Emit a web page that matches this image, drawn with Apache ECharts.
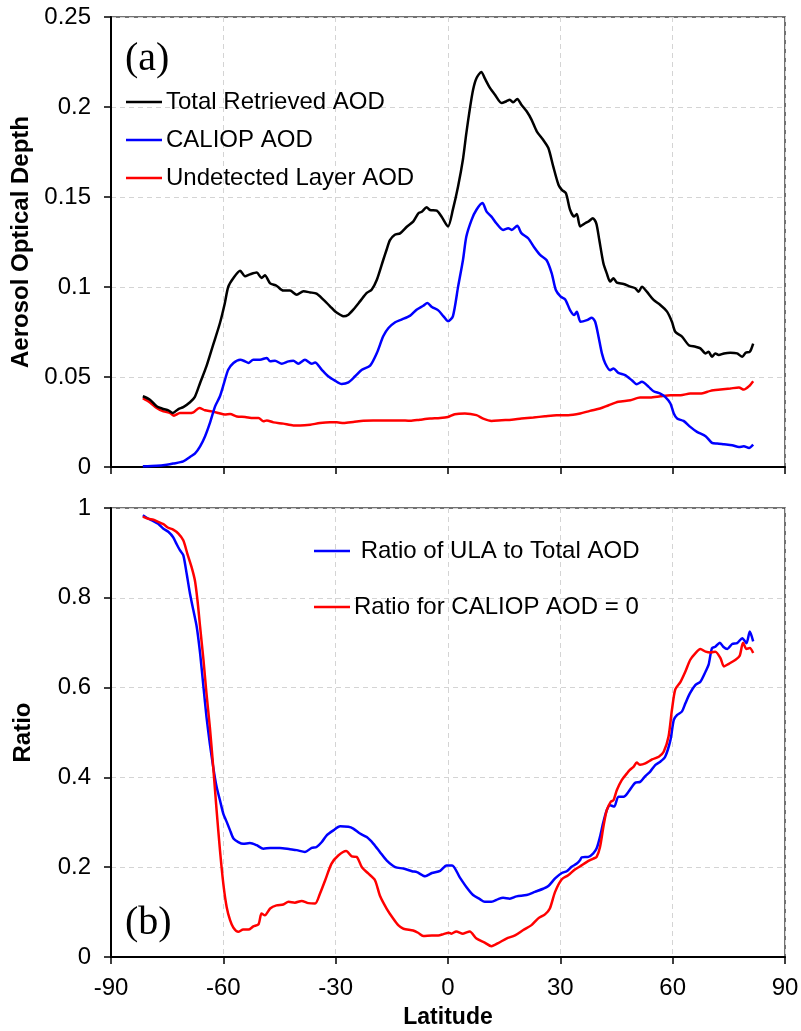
<!DOCTYPE html>
<html>
<head>
<meta charset="utf-8">
<script src="https://cdn.jsdelivr.net/npm/echarts@6/dist/echarts.min.js"></script>
<style>
html,body{margin:0;padding:0;background:#fff;}
#chart{width:801px;height:1031px;}
</style>
</head>
<body>
<div id="chart"></div>
<script>
// ---------------- DATA ----------------
const xTicks = [-90, -60, -30, 0, 30, 60, 90];
const aodTicks = [0, 0.05, 0.1, 0.15, 0.2, 0.25];
const ratioTicks = [0, 0.2, 0.4, 0.6, 0.8, 1];

const totalLat = [-81.5,-79.6,-77.8,-76.0,-74.7,-73.5,-72.0,-70.7,-68.9,-67.6,-66.2,-64.5,-62.7,-60.9,-59.6,-58.7,-57.3,-55.5,-54.2,-52.9,-51.1,-49.8,-48.9,-47.5,-45.8,-44.0,-42.2,-40.4,-38.6,-36.8,-35.1,-33.3,-31.5,-30.2,-28.8,-27.9,-26.6,-25.3,-23.5,-21.7,-20.4,-19.0,-17.3,-16.4,-15.5,-14.2,-12.8,-11.0,-9.3,-7.9,-7.0,-5.7,-4.8,-3.0,-1.7,0.0,1.3,2.7,4.0,4.9,5.8,6.7,7.6,8.9,9.8,11.2,12.5,14.3,15.6,16.5,17.4,18.5,19.6,21.0,22.3,23.7,25.4,26.8,28.1,29.5,30.4,31.5,32.6,33.7,34.4,35.3,36.6,37.5,38.7,39.6,40.4,41.5,42.4,43.3,44.2,45.1,46.9,48.7,50.0,50.9,51.8,53.1,54.9,56.7,58.5,59.8,60.7,62.5,64.3,66.1,67.4,68.8,69.6,70.5,71.4,72.3,73.7,75.4,77.2,78.6,79.5,80.6,81.5];
const totalAOD = [0.0393,0.0374,0.0337,0.0322,0.0315,0.0300,0.0322,0.0333,0.0360,0.0390,0.0467,0.0560,0.0680,0.0800,0.0910,0.1000,0.1050,0.1090,0.1060,0.1070,0.1080,0.1050,0.1065,0.1020,0.1007,0.0980,0.0980,0.0957,0.0976,0.0970,0.0963,0.0930,0.0893,0.0865,0.0846,0.0837,0.0846,0.0874,0.0920,0.0967,0.0985,0.1040,0.1150,0.1207,0.1260,0.1290,0.1298,0.1335,0.1363,0.1410,0.1418,0.1443,0.1428,0.1424,0.1390,0.1336,0.1430,0.1560,0.1710,0.1855,0.1985,0.2096,0.2160,0.2195,0.2160,0.2106,0.2069,0.2022,0.2032,0.2040,0.2026,0.2045,0.2013,0.1976,0.1930,0.1865,0.1818,0.1772,0.1670,0.1568,0.1540,0.1521,0.1429,0.1391,0.1406,0.1336,0.1354,0.1364,0.1382,0.1354,0.1262,0.1132,0.1076,0.1030,0.1048,0.1024,0.1017,0.1002,0.0993,0.0974,0.1002,0.0974,0.0928,0.0900,0.0863,0.0807,0.0751,0.0724,0.0677,0.0668,0.0659,0.0631,0.0640,0.0612,0.0631,0.0622,0.0631,0.0635,0.0631,0.0612,0.0635,0.0640,0.0686];

const caliopLat = [-81.5,-77.8,-75.1,-73.4,-70.7,-68.9,-67.6,-66.2,-64.9,-63.6,-62.2,-60.9,-59.8,-58.7,-57.3,-55.5,-54.2,-53.3,-52.0,-50.2,-48.4,-47.5,-46.2,-44.4,-42.6,-41.3,-40.0,-38.2,-36.4,-35.5,-33.7,-32.0,-30.2,-28.4,-26.6,-24.8,-23.0,-20.8,-19.0,-17.3,-15.9,-14.1,-12.4,-10.1,-8.4,-6.6,-5.5,-4.3,-2.6,-1.2,0.0,1.3,2.7,4.0,4.9,6.3,7.6,9.2,10.3,11.6,12.9,14.7,16.1,17.0,18.5,19.6,21.4,23.2,24.6,26.3,27.7,28.8,30.1,31.3,32.6,33.7,34.4,35.4,37.1,38.4,39.3,40.2,41.1,42.0,43.3,44.2,45.5,47.3,49.1,50.4,51.8,53.6,54.9,56.7,58.0,59.4,60.3,61.2,62.9,64.7,66.5,68.8,70.5,71.9,73.7,75.9,77.7,79.0,80.4,81.5];
const caliopAOD = [0.0004,0.0007,0.0013,0.0019,0.0031,0.0056,0.0074,0.0115,0.0170,0.0244,0.0337,0.0393,0.0467,0.0540,0.0578,0.0596,0.0587,0.0578,0.0596,0.0596,0.0606,0.0587,0.0590,0.0574,0.0587,0.0590,0.0574,0.0596,0.0574,0.0581,0.0540,0.0504,0.0480,0.0461,0.0470,0.0504,0.0540,0.0563,0.0633,0.0726,0.0772,0.0804,0.0819,0.0841,0.0874,0.0896,0.0911,0.0889,0.0870,0.0837,0.0810,0.0837,0.1002,0.1150,0.1280,0.1373,0.1429,0.1466,0.1419,0.1391,0.1354,0.1317,0.1327,0.1317,0.1340,0.1299,0.1271,0.1215,0.1178,0.1150,0.1076,0.0983,0.0946,0.0931,0.0872,0.0844,0.0863,0.0807,0.0816,0.0829,0.0807,0.0724,0.0631,0.0575,0.0538,0.0547,0.0523,0.0510,0.0482,0.0460,0.0473,0.0445,0.0421,0.0408,0.0390,0.0353,0.0297,0.0269,0.0256,0.0223,0.0195,0.0171,0.0134,0.0130,0.0126,0.0121,0.0111,0.0115,0.0106,0.0124];

const ulaLat = [-81.5,-79.6,-77.8,-76.0,-74.2,-73.2,-71.6,-69.3,-68.0,-66.4,-64.9,-63.1,-61.3,-59.6,-58.2,-56.4,-54.2,-52.0,-50.6,-49.3,-48.4,-46.6,-44.0,-41.3,-39.5,-36.8,-34.2,-31.5,-29.7,-27.9,-25.3,-22.6,-20.0,-17.3,-14.6,-12.8,-10.1,-7.5,-4.8,-2.1,0.0,1.8,4.5,7.6,9.4,11.6,14.3,17.0,19.6,22.8,25.9,29.0,32.1,35.3,37.9,40.6,42.9,45.5,48.7,51.3,54.0,56.7,59.4,62.1,64.7,67.4,70.1,72.8,75.4,77.7,79.0,80.4,81.5];
const ulaAOD = [0.0383,0.0359,0.0328,0.0309,0.0300,0.0285,0.0300,0.0300,0.0304,0.0328,0.0315,0.0309,0.0300,0.0291,0.0294,0.0281,0.0278,0.0272,0.0272,0.0254,0.0259,0.0248,0.0241,0.0231,0.0231,0.0235,0.0244,0.0248,0.0248,0.0244,0.0250,0.0257,0.0259,0.0259,0.0259,0.0259,0.0257,0.0263,0.0269,0.0272,0.0278,0.0293,0.0297,0.0288,0.0269,0.0256,0.0260,0.0263,0.0269,0.0275,0.0282,0.0288,0.0288,0.0297,0.0312,0.0325,0.0343,0.0362,0.0371,0.0386,0.0386,0.0393,0.0399,0.0399,0.0408,0.0408,0.0423,0.0430,0.0436,0.0442,0.0430,0.0449,0.0477];

const ratioTotalLat = [-81.5,-80.0,-78.7,-77.4,-76.0,-74.7,-73.4,-72.5,-71.6,-70.7,-69.8,-68.9,-68.0,-67.1,-66.2,-65.3,-64.5,-63.6,-62.7,-61.8,-60.9,-60.0,-59.1,-58.2,-57.3,-56.0,-54.7,-52.9,-51.1,-49.3,-47.5,-44.9,-42.2,-40.4,-38.2,-36.4,-35.1,-33.7,-32.4,-30.6,-28.8,-26.6,-25.3,-23.5,-21.7,-19.9,-18.2,-16.4,-14.1,-11.9,-9.6,-8.3,-6.1,-4.3,-2.1,-0.4,1.1,3.1,4.9,6.7,8.5,9.8,11.6,13.4,14.7,16.5,18.3,21.0,23.2,25.4,26.8,28.6,30.4,31.7,33.0,34.4,35.3,35.7,37.5,38.8,39.7,40.6,41.5,42.4,43.3,44.4,45.5,46.9,48.2,50.0,51.3,52.7,54.0,55.4,56.7,58.0,59.4,60.3,61.2,62.5,63.4,64.6,66.1,67.4,68.8,69.6,70.5,71.4,72.6,73.5,74.6,75.9,77.2,78.6,79.7,80.6,81.5];
const ratioTotal = [0.984,0.976,0.971,0.965,0.954,0.947,0.935,0.920,0.906,0.895,0.854,0.809,0.772,0.735,0.676,0.601,0.535,0.475,0.423,0.379,0.349,0.319,0.301,0.282,0.264,0.256,0.252,0.254,0.249,0.241,0.243,0.243,0.240,0.238,0.234,0.243,0.245,0.256,0.271,0.282,0.291,0.290,0.286,0.275,0.267,0.252,0.234,0.215,0.200,0.197,0.191,0.189,0.180,0.187,0.192,0.204,0.204,0.178,0.156,0.138,0.129,0.123,0.123,0.129,0.132,0.130,0.135,0.138,0.145,0.152,0.158,0.175,0.187,0.191,0.201,0.208,0.216,0.222,0.223,0.231,0.242,0.268,0.301,0.327,0.338,0.335,0.357,0.357,0.368,0.388,0.390,0.403,0.413,0.428,0.435,0.446,0.483,0.528,0.539,0.547,0.565,0.587,0.606,0.613,0.636,0.651,0.688,0.691,0.700,0.691,0.686,0.697,0.699,0.710,0.699,0.725,0.703];

const ratioZeroLat = [-81.5,-80.0,-78.7,-77.4,-76.0,-74.7,-73.4,-72.0,-70.7,-69.6,-68.5,-67.6,-66.9,-66.2,-65.3,-64.5,-63.6,-62.7,-61.8,-60.9,-60.0,-59.1,-58.2,-57.3,-56.0,-54.7,-53.3,-52.0,-50.6,-49.8,-48.9,-47.5,-45.8,-44.0,-42.6,-40.9,-39.1,-37.3,-35.5,-34.2,-32.8,-31.1,-29.3,-27.2,-25.7,-24.4,-23.0,-21.3,-19.5,-18.2,-16.4,-14.6,-13.3,-11.9,-9.3,-8.0,-6.6,-4.3,-2.6,-1.2,0.2,0.9,2.2,4.0,5.8,7.6,9.8,11.6,13.4,15.6,17.9,20.1,22.3,24.1,25.9,27.2,28.6,30.4,32.1,33.9,35.3,37.1,38.8,39.7,40.6,41.5,42.4,43.5,44.2,45.1,46.4,47.8,48.5,49.6,50.4,51.3,52.7,54.5,56.3,57.6,58.9,59.8,60.7,62.1,63.4,64.7,66.1,67.4,68.8,70.1,71.4,72.8,73.7,75.0,76.8,77.9,78.8,79.7,80.6,81.5];
const ratioZero = [0.981,0.976,0.974,0.969,0.964,0.956,0.952,0.943,0.928,0.898,0.869,0.839,0.794,0.735,0.661,0.587,0.512,0.423,0.327,0.238,0.163,0.111,0.082,0.065,0.056,0.061,0.061,0.068,0.073,0.097,0.093,0.108,0.115,0.117,0.123,0.121,0.125,0.120,0.119,0.141,0.171,0.208,0.226,0.236,0.224,0.223,0.200,0.186,0.171,0.137,0.108,0.085,0.071,0.063,0.059,0.054,0.047,0.048,0.048,0.051,0.054,0.052,0.057,0.052,0.057,0.041,0.032,0.024,0.031,0.041,0.048,0.060,0.071,0.086,0.095,0.108,0.145,0.173,0.182,0.195,0.202,0.212,0.219,0.223,0.245,0.290,0.327,0.346,0.349,0.372,0.394,0.409,0.416,0.424,0.433,0.428,0.431,0.440,0.446,0.457,0.491,0.550,0.596,0.613,0.636,0.662,0.677,0.686,0.680,0.678,0.680,0.665,0.647,0.653,0.662,0.671,0.700,0.686,0.688,0.677];

// ---------------- CHART ----------------
const pair = (xs, ys) => xs.map((x, i) => [x, ys[i]]);
const FONT = '"Liberation Sans", Arial, sans-serif';
const chart = echarts.init(document.getElementById('chart'), null, {renderer: 'canvas'});

const split = {show: true, lineStyle: {color: '#d4d4d4', type: [5, 4], width: 1}};
const axLine = {show: true, onZero: false, lineStyle: {color: '#000', width: 2}};
const ticks = {show: true, inside: false, length: 7, lineStyle: {color: '#000', width: 1.5}};

function xAxis(gi, showLabels) {
  return {
    type: 'value', gridIndex: gi, min: xTicks[0], max: xTicks[xTicks.length - 1], interval: 30,
    axisLine: axLine, axisTick: ticks, splitLine: split,
    axisLabel: {show: showLabels, color: '#000', fontSize: 24, fontFamily: FONT, margin: 19},
    name: showLabels ? 'Latitude' : '', nameLocation: 'middle', nameGap: 49,
    nameTextStyle: {color: '#000', fontSize: 23, fontWeight: 'bold', fontFamily: FONT}
  };
}
function yAxis(gi, ticksArr, interval, name) {
  return {
    type: 'value', gridIndex: gi, min: ticksArr[0], max: ticksArr[ticksArr.length - 1], interval: interval,
    axisLine: axLine, axisTick: ticks, splitLine: split,
    axisLabel: {color: '#000', fontSize: 24, fontFamily: FONT, margin: 20},
    name: name, nameLocation: 'middle', nameGap: 76, nameRotate: 90,
    nameTextStyle: {color: '#000', fontSize: 24, fontWeight: 'bold', fontFamily: FONT}
  };
}
function line(name, xi, data, color) {
  return {
    name: name, type: 'line', xAxisIndex: xi, yAxisIndex: xi, data: data,
    symbol: 'none', smooth: 0.25, lineStyle: {color: color, width: 2.5}, itemStyle: {color: color},
    animation: false, z: 3
  };
}
const legendText = {color: '#000', fontSize: 24, fontFamily: FONT, lineHeight: 24, padding: [0, 0, 0, -1]};

const option = {
  backgroundColor: '#fff',
  animation: false,
  grid: [
    {left: 111, top: 17, width: 674, height: 450, show: true, borderColor: '#444', borderWidth: 1.5, backgroundColor: 'transparent', outerBoundsMode: 'none'},
    {left: 111, top: 508, width: 674, height: 449, show: true, borderColor: '#444', borderWidth: 1.5, backgroundColor: 'transparent', outerBoundsMode: 'none'}
  ],
  xAxis: [xAxis(0, false), xAxis(1, true)],
  yAxis: [yAxis(0, aodTicks, 0.05, 'Aerosol Optical Depth'), yAxis(1, ratioTicks, 0.2, 'Ratio')],
  legend: [
    {
      data: ['Total Retrieved AOD', 'CALIOP AOD', 'Undetected Layer AOD'],
      orient: 'vertical', left: 126, top: 90, icon: 'rect', itemWidth: 36, itemHeight: 2.5, itemGap: 14,
      textStyle: legendText, selectedMode: false, padding: 0
    },
    {
      data: ['Ratio of ULA to Total AOD', 'Ratio for CALIOP AOD = 0'],
      orient: 'vertical', left: 314, top: 539, icon: 'rect', itemWidth: 36, itemHeight: 2.5, itemGap: 32,
      formatter: n => n === 'Ratio of ULA to Total AOD' ? ' ' + n : n,
      textStyle: legendText, selectedMode: false, padding: 0
    }
  ],
  graphic: [
    {type: 'text', left: 125, top: 39, style: {text: '(a)', fill: '#000', font: '40px "Liberation Serif", "Times New Roman", serif'}},
    {type: 'text', left: 125, top: 903, style: {text: '(b)', fill: '#000', font: '40px "Liberation Serif", "Times New Roman", serif'}}
  ],
  series: [
    line('Undetected Layer AOD', 0, pair(ulaLat, ulaAOD), '#ff0000'),
    line('CALIOP AOD', 0, pair(caliopLat, caliopAOD), '#0000ff'),
    line('Total Retrieved AOD', 0, pair(totalLat, totalAOD), '#000000'),
    line('Ratio of ULA to Total AOD', 1, pair(ratioTotalLat, ratioTotal), '#0000ff'),
    line('Ratio for CALIOP AOD = 0', 1, pair(ratioZeroLat, ratioZero), '#ff0000')
  ]
};
chart.setOption(option);
</script>
</body>
</html>
